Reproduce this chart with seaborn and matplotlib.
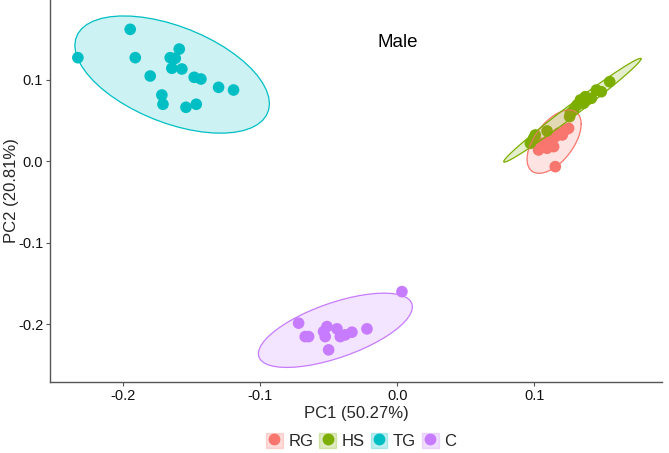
import numpy as np
import pandas as pd
import matplotlib
matplotlib.use("Agg")
import matplotlib.pyplot as plt
from matplotlib.patches import Patch
from matplotlib.lines import Line2D
from matplotlib.legend_handler import HandlerTuple
import seaborn as sns

# groupes et couleurs (palette ggplot par defaut)
groups = ["RG", "HS", "TG", "C"]
colors = ["#F8766D", "#7CAE00", "#00BFC4", "#C77CFF"]

# scores
rg_pc1 = [0.1250, 0.1226, 0.1177, 0.1153, 0.1104, 0.1056, 0.1031, 0.1093, 0.1141, 0.1153, 0.1204]
rg_pc2 = [0.0407, 0.0387, 0.0346, 0.0304, 0.0264, 0.0223, 0.0141, 0.0162, 0.0182, -0.0064, 0.0325]

hs_pc1 = [0.1550, 0.1489, 0.1453, 0.1416, 0.1372, 0.1360, 0.1312, 0.1287, 0.1263, 0.1258,
          0.1093, 0.1007, 0.0995, 0.0971, 0.1336]
hs_pc2 = [0.0979, 0.0856, 0.0877, 0.0775, 0.0795, 0.0714, 0.0693, 0.0632, 0.0591, 0.0550,
          0.0374, 0.0325, 0.0285, 0.0223, 0.0755]

tg_pc1 = [-0.1949, -0.2331, -0.1912, -0.1803, -0.1657, -0.1620, -0.1591, -0.1645, -0.1572,
          -0.1482, -0.1433, -0.1304, -0.1195, -0.1718, -0.1710, -0.1542, -0.1467]
tg_pc2 = [0.1622, 0.1274, 0.1274, 0.1049, 0.1274, 0.1266, 0.1380, 0.1144, 0.1135,
          0.1033, 0.1012, 0.0910, 0.0877, 0.0816, 0.0702, 0.0665, 0.0702]

c_pc1 = [-0.0720, -0.0221, -0.0647, -0.0672, -0.0513, -0.0440, -0.0526, -0.0538,
         -0.0416, -0.0380, -0.0331, -0.0501, 0.0034]
c_pc2 = [-0.1985, -0.2055, -0.2150, -0.2150, -0.2027, -0.2055, -0.2150, -0.2088,
         -0.2150, -0.2129, -0.2096, -0.2313, -0.1598]

xticks = [-0.2, -0.1, 0.0, 0.1]
yticks = [-0.2, -0.1, 0.0, 0.1]

df = pd.concat([
    pd.DataFrame({"PC1": rg_pc1, "PC2": rg_pc2, "group": "RG"}),
    pd.DataFrame({"PC1": hs_pc1, "PC2": hs_pc2, "group": "HS"}),
    pd.DataFrame({"PC1": tg_pc1, "PC2": tg_pc2, "group": "TG"}),
    pd.DataFrame({"PC1": c_pc1, "PC2": c_pc2, "group": "C"}),
], ignore_index=True)


def ellipse_pts(x, level=0.95, segments=51):
    # comme stat_ellipse(type = "norm") : covariance empirique, rayon F
    n = len(x)
    loc = x.mean(axis=0)
    cov = np.cov(x.T)
    d = n - 1
    qf = d / 2 * ((1 - level) ** (-2 / d) - 1)
    radius = np.sqrt(2 * qf)
    t = np.linspace(0, 2 * np.pi, segments)
    circle = np.column_stack([np.cos(t), np.sin(t)])
    chol = np.linalg.cholesky(cov).T
    return loc + radius * circle @ chol


sns.set_theme(style="ticks")
plt.rcParams["font.family"] = ["Liberation Sans", "DejaVu Sans"]
plt.rcParams["axes.unicode_minus"] = False

fig = plt.figure(figsize=(6.69, 4.53), dpi=100)
ax = fig.add_axes([0.075, 0.157, 0.915, 0.843])

sns.scatterplot(data=df, x="PC1", y="PC2", hue="group", hue_order=groups,
                palette=colors, s=70, edgecolor="none", linewidth=0,
                legend=False, ax=ax, zorder=3)

for g, col in zip(groups, colors):
    pts = df.loc[df["group"] == g, ["PC1", "PC2"]].to_numpy()
    el = ellipse_pts(pts)
    ax.fill(el[:, 0], el[:, 1], facecolor=col, alpha=0.2, edgecolor="none", zorder=4)
    ax.plot(el[:, 0], el[:, 1], color=col, lw=0.9, zorder=4)

ax.text(0.0, 0.146, "Male", fontsize=13.5, ha="center", va="center", color="black")

ax.set_xlim(-0.2533, 0.1934)
ax.set_ylim(-0.2706, 0.1982)
ax.set_xticks(xticks)
ax.set_xticklabels([f"{v:.1f}" for v in xticks])
ax.set_yticks(yticks)
ax.set_yticklabels([f"{v:.1f}" for v in yticks])
ax.tick_params(axis="both", length=3, width=0.8, color="#555555",
               labelsize=10.5, labelcolor="#111111", pad=2)
ax.set_xlabel("PC1 (50.27%)", fontsize=12, labelpad=2)
ax.set_ylabel("PC2 (20.81%)", fontsize=12)
ax.yaxis.set_label_coords(-0.051, 0.5)
sns.despine(ax=ax)
for side in ["left", "bottom"]:
    ax.spines[side].set_color("#555555")
    ax.spines[side].set_linewidth(1.0)

handles = []
for col in colors:
    box = Patch(facecolor=col, alpha=0.25, edgecolor=col, linewidth=1.0)
    dot = Line2D([], [], marker="o", color=col, linestyle="none", markersize=7.5)
    handles.append((box, dot))

fig.legend(handles, groups, loc="center", bbox_to_anchor=(0.54, 0.027),
           ncol=4, frameon=False, fontsize=12, handlelength=1.0, handleheight=1.0,
           handletextpad=0.35, columnspacing=0.35,
           handler_map={tuple: HandlerTuple(ndivide=1)})

fig.savefig("out.png", dpi=100)
